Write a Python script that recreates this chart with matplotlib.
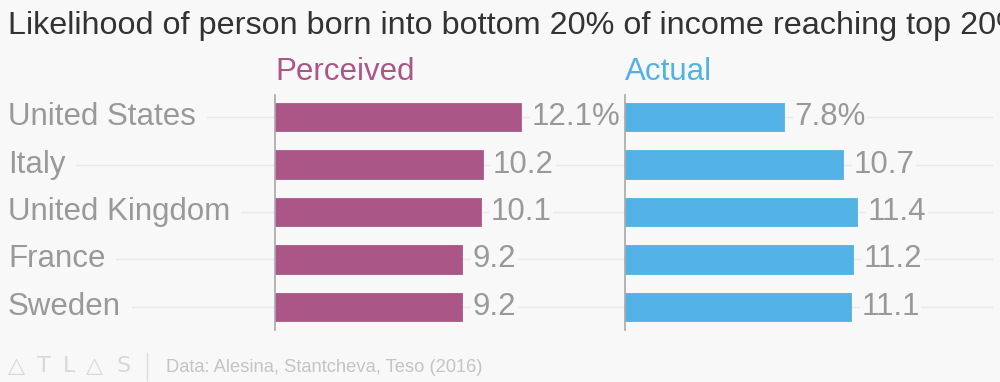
import matplotlib.pyplot as plt
from matplotlib.transforms import blended_transform_factory
from matplotlib.lines import Line2D

countries = ["United States", "Italy", "United Kingdom", "France", "Sweden"]
perceived = [12.1, 10.2, 10.1, 9.2, 9.2]
actual = [7.8, 10.7, 11.4, 11.2, 11.1]

bg = "#f8f8f8"
purple = "#aa5787"
blue = "#52b2e5"
grey = "#999999"

W, H = 1000, 382
fig = plt.figure(figsize=(W / 100, H / 100), dpi=100, facecolor=bg)
plt.rcParams['font.family'] = ['Liberation Sans', 'DejaVu Sans']

def px_box(left, top, width, height):
    return [left / W, (H - top - height) / H, width / W, height / H]

ax1 = fig.add_axes(px_box(275, 95, 346, 235))
ax2 = fig.add_axes(px_box(625, 95, 346, 235))

def value_fmt(v, i):
    return f"{v}%" if i == 0 else f"{v}"

for ax, vals, col, head in [(ax1, perceived, purple, "Perceived"), (ax2, actual, blue, "Actual")]:
    ax.set_facecolor("none")
    ypos = range(len(vals))
    ax.barh(ypos, vals, height=0.6, color=col, edgecolor=col, linewidth=0.6, zorder=3)
    ax.set_xlim(0, 17)
    ax.set_ylim(len(vals) - 0.51, -0.47)
    for s in ["top", "right", "bottom"]:
        ax.spines[s].set_visible(False)
    ax.spines["left"].set_color("#a8a8a8")
    ax.spines["left"].set_linewidth(1.2)
    ax.spines["left"].set_zorder(4)
    ax.set_xticks([])
    ax.set_yticks([])
    for i, v in enumerate(vals):
        ax.annotate(value_fmt(v, i), (v, i), xytext=(7.5, 0), textcoords="offset points",
                    va="center", ha="left", fontsize=22.5, color=grey, zorder=5,
                    bbox=dict(boxstyle="square,pad=0.05", fc=bg, ec="none"))
    ax.text(0, 1 + 15 / 235, head, transform=ax.transAxes, fontsize=22.5, color=col,
            ha="left", va="baseline")

# gridlines and country labels, across the whole figure width
tr = blended_transform_factory(fig.transFigure, ax1.transData)
for i, c in enumerate(countries):
    ln = Line2D([8 / W, 992 / W], [i, i], transform=tr, color="#e8e8e8",
                linewidth=1.0, zorder=0, clip_on=False)
    ax1.add_line(ln)
    ax1.text(8 / W, i, c, transform=tr, fontsize=22.5, color=grey, ha="left",
             va="center", zorder=2, clip_on=False,
             bbox=dict(boxstyle="square,pad=0.35", fc=bg, ec="none"))

fig.text(8 / W, 1 - 26 / H, "Likelihood of person born into bottom 20% of income reaching top 20%",
         fontsize=23.3, color="#333333", ha="left", va="center")

# footer: ATLAS wordmark, separator, source
logo = ["\u25b3", "T", "L", "\u25b3", "S"]
logo_x = [8, 37, 63, 86, 116]
for ch, lx in zip(logo, logo_x):
    fig.text(lx / W, 1 - 366 / H, ch, fontsize=16, color="#d8d8d8",
             ha="left", va="center", family=["DejaVu Sans"])
fig.add_artist(Line2D([147 / W, 147 / W], [1 - 353 / H, 1 - 380 / H], color="#dddddd", linewidth=1))
fig.text(166 / W, 1 - 368 / H, "Data: Alesina, Stantcheva, Teso (2016)", fontsize=13.2,
         color="#c4c4c4", ha="left", va="center")

fig.savefig("out.png", dpi=100, facecolor=bg)
